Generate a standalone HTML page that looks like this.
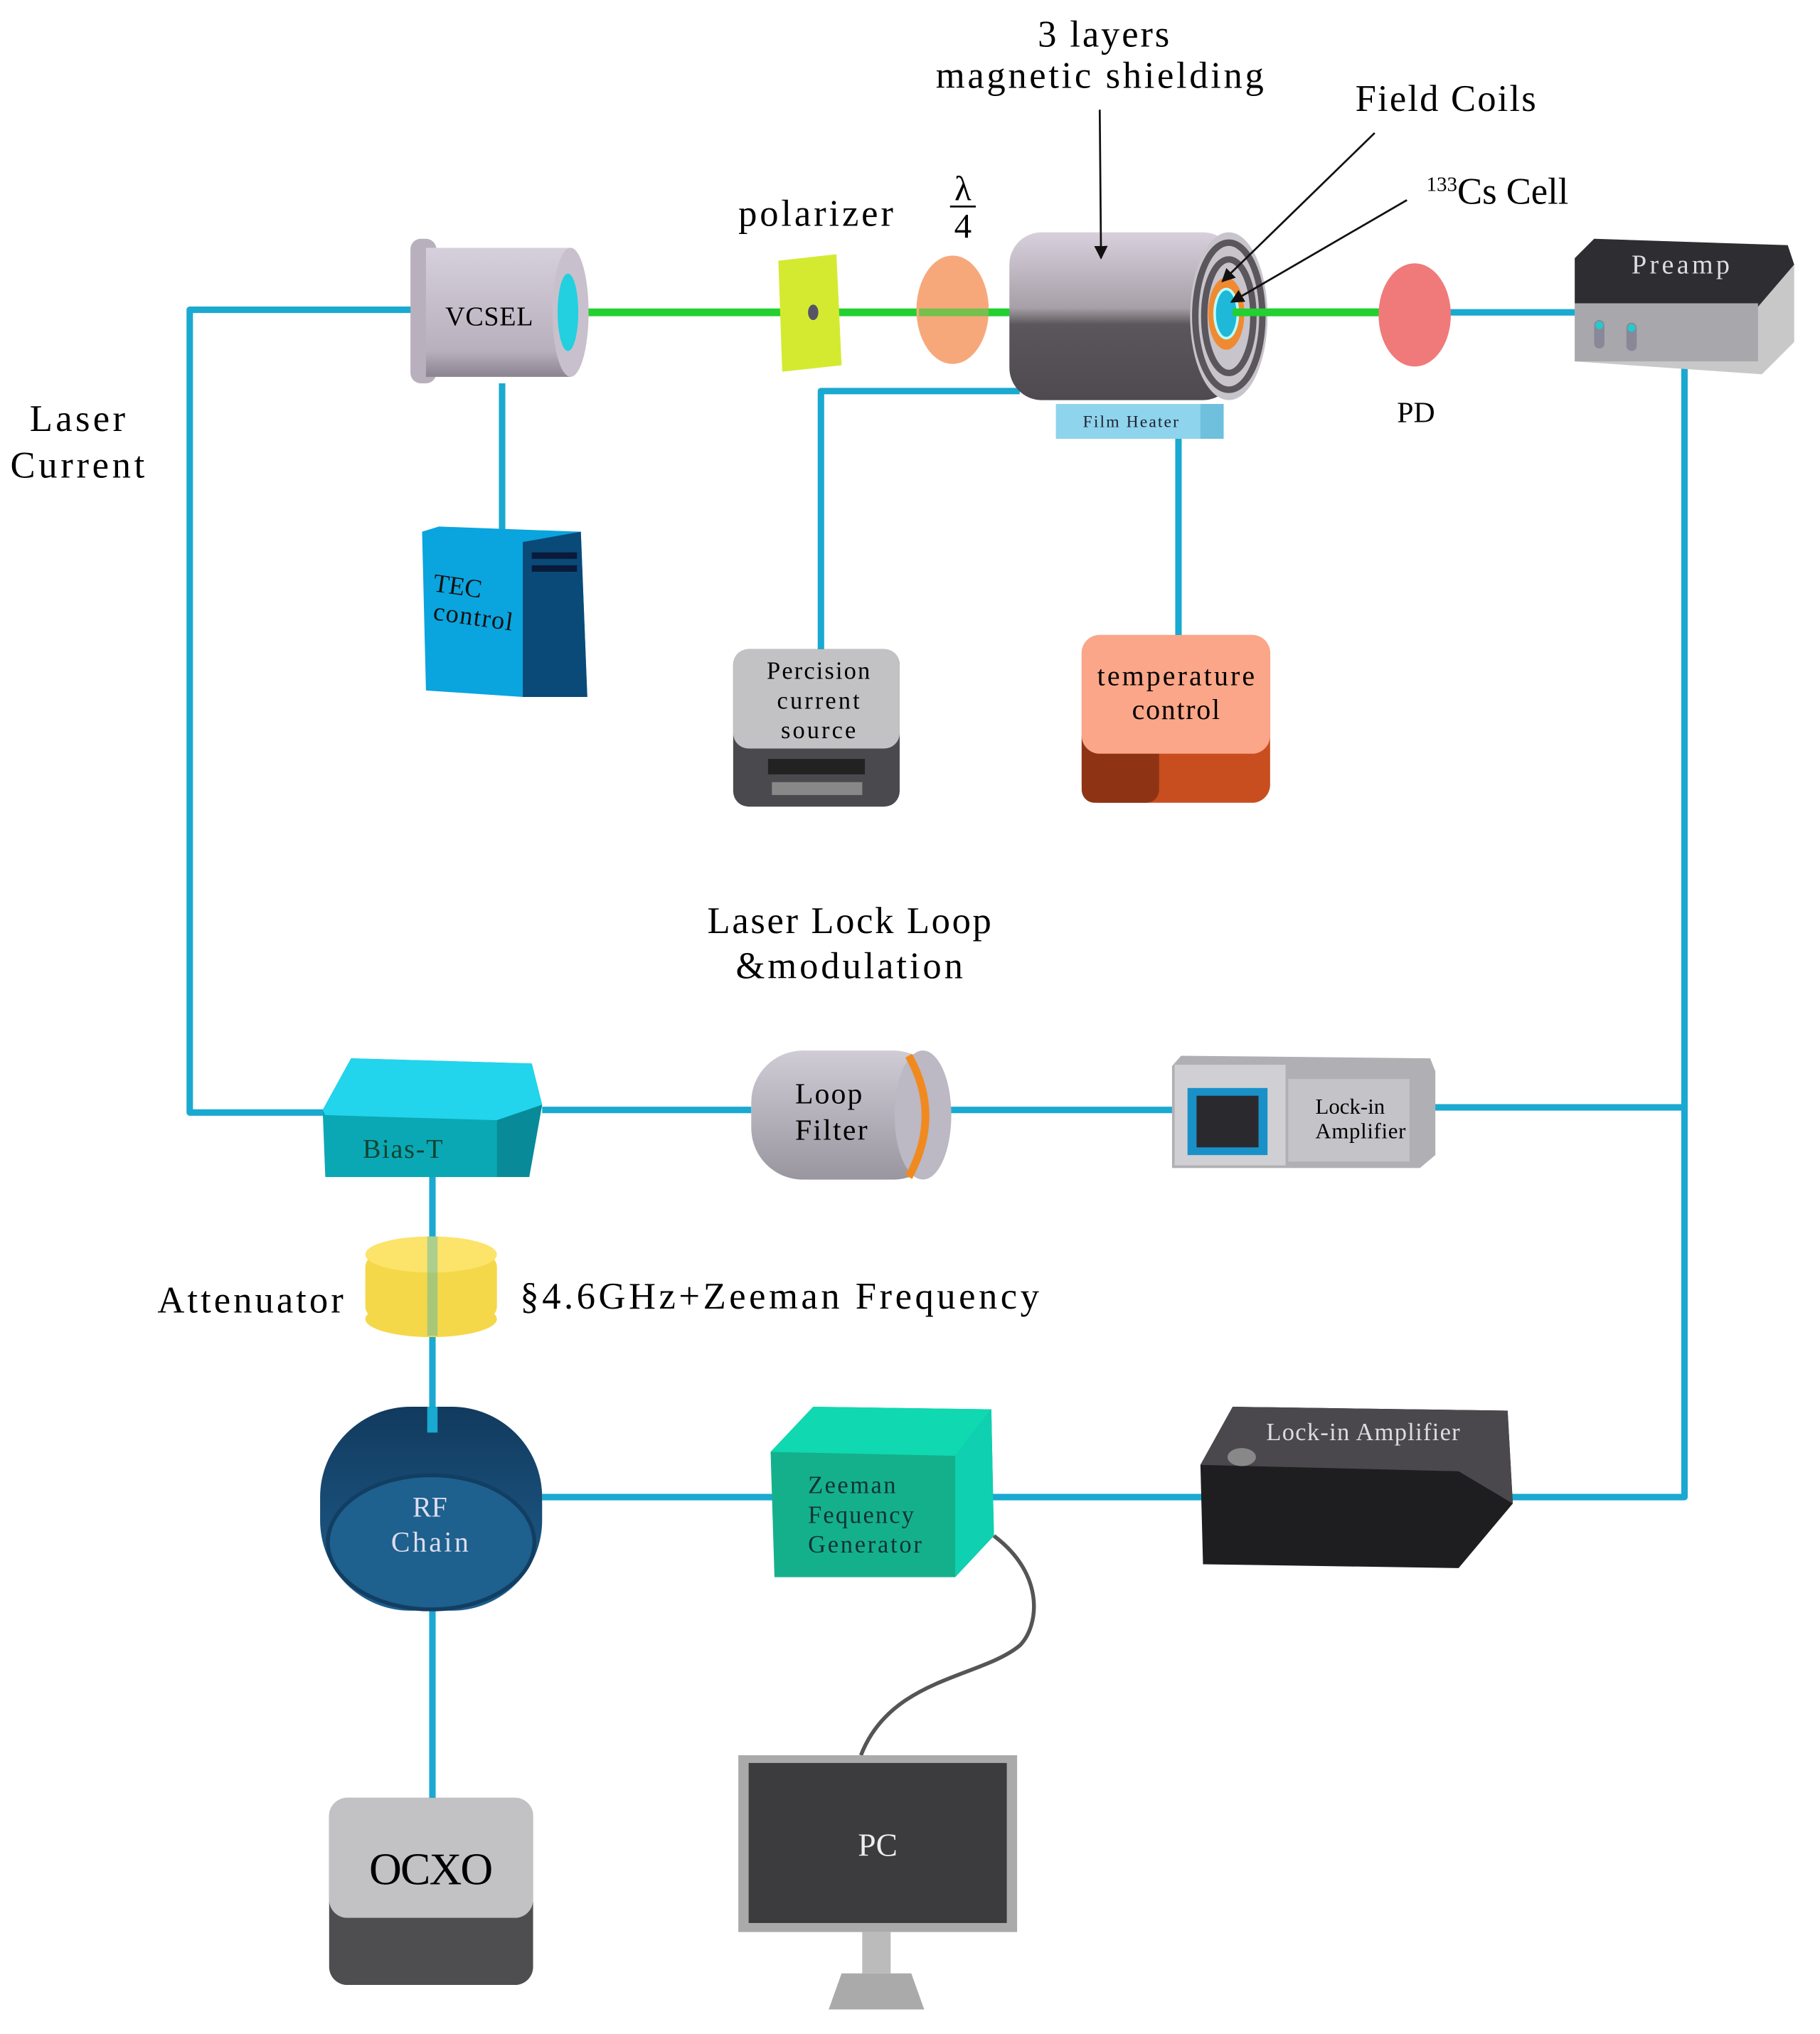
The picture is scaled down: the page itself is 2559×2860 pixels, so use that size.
<!DOCTYPE html>
<html><head><meta charset="utf-8"><style>
html,body{margin:0;padding:0;background:#fff}
svg{display:block}
text{font-family:"Liberation Serif",serif}
</style></head><body>
<svg width="2559" height="2860" viewBox="0 0 1410 1576" preserveAspectRatio="none" xmlns="http://www.w3.org/2000/svg">
<defs>
<linearGradient id="cyl" x1="0" y1="0" x2="0" y2="1"><stop offset="0" stop-color="#d8d0dc"/><stop offset="0.45" stop-color="#a8a0a8"/><stop offset="0.55" stop-color="#5a565c"/><stop offset="1" stop-color="#4e4a50"/></linearGradient>
<linearGradient id="vc" x1="0" y1="0" x2="0" y2="1"><stop offset="0" stop-color="#d6d0dc"/><stop offset="0.8" stop-color="#b8b0bc"/><stop offset="1" stop-color="#8a8490"/></linearGradient>
<linearGradient id="lf" x1="0" y1="0" x2="0" y2="1"><stop offset="0" stop-color="#d0ccd6"/><stop offset="1" stop-color="#9a96a0"/></linearGradient>
<linearGradient id="rf" x1="0" y1="0" x2="0" y2="1"><stop offset="0" stop-color="#123a5e"/><stop offset="1" stop-color="#1e5f8e"/></linearGradient>
<marker id="ar" viewBox="0 0 10 10" refX="9" refY="5" markerWidth="7" markerHeight="7" orient="auto"><path d="M0,0L10,5L0,10z" fill="#111"/></marker>
</defs>
<g stroke="#1aa9d0" stroke-width="5" fill="none" stroke-linejoin="round">
<polyline points="320,240 147,240 147,862 255,862"/>
<line x1="389" y1="297" x2="389" y2="412"/>
<polyline points="790,303 636,303 636,505"/>
<line x1="913" y1="340" x2="913" y2="495"/>
<line x1="1105" y1="242" x2="1222" y2="242"/>
<polyline points="1305,285 1305,1160 1150,1160"/>
<line x1="420" y1="860" x2="582" y2="860"/>
<line x1="735" y1="860" x2="908" y2="860"/>
<line x1="1110" y1="858" x2="1305" y2="858"/>
<line x1="335" y1="912" x2="335" y2="1400"/>
<line x1="420" y1="1160" x2="600" y2="1160"/>
<line x1="765" y1="1160" x2="932" y2="1160"/>
</g>
<line x1="435" y1="242" x2="1090" y2="242" stroke="#22d030" stroke-width="6"/>
<rect x="318" y="185" width="20" height="112" rx="8" fill="#b8b0bc"/>
<rect x="330" y="192" width="112" height="100" fill="url(#vc)"/>
<ellipse cx="442" cy="242" rx="14" ry="50" fill="#c8c0cc"/>
<ellipse cx="440" cy="242" rx="8" ry="30" fill="#22d0e0"/>
<text x="379" y="252" font-size="21" text-anchor="middle" textLength="68">VCSEL</text>
<polygon points="603,202 648,197 652,283 606,288" fill="#d4ea30"/>
<ellipse cx="630" cy="242" rx="4" ry="6" fill="#556"/>
<ellipse cx="738" cy="240" rx="28" ry="42" fill="#f7a87a"/>
<line x1="712" y1="242" x2="780" y2="242" stroke="#22d030" stroke-width="6" opacity="0.6"/>
<rect x="782" y="180" width="175" height="130" rx="25" fill="url(#cyl)"/>
<ellipse cx="952" cy="245" rx="30" ry="65" fill="#c8c4cc"/>
<ellipse cx="952" cy="245" rx="26" ry="57" fill="none" stroke="#5a565c" stroke-width="5"/>
<ellipse cx="952" cy="245" rx="19" ry="44" fill="none" stroke="#5a565c" stroke-width="5"/>
<ellipse cx="950" cy="243" rx="14" ry="28" fill="#f08a30"/>
<ellipse cx="950" cy="243" rx="9" ry="19" fill="#20b8d8" stroke="#bff" stroke-width="2"/>
<line x1="955" y1="242" x2="1080" y2="242" stroke="#22d030" stroke-width="6"/>
<rect x="818" y="313" width="130" height="27" fill="#8ed4ec"/>
<rect x="930" y="313" width="18" height="27" fill="#6ec0dc"/>
<text x="876" y="331" font-size="13" text-anchor="middle" fill="#223" textLength="74">Film Heater</text>
<ellipse cx="1096" cy="244" rx="28" ry="40" fill="#f07a7a"/>
<polygon points="1220,200 1235,185 1385,190 1390,205 1390,265 1365,290 1220,280" fill="#c8c8c8"/>
<polygon points="1220,200 1235,185 1385,190 1390,205 1360,240 1220,235" fill="#2e2e32"/>
<rect x="1220" y="235" width="142" height="45" fill="#a8a8ac"/>
<rect x="1235" y="248" width="8" height="22" rx="4" fill="#889"/><circle cx="1239" cy="252" r="3" fill="#2cc"/>
<rect x="1260" y="250" width="8" height="22" rx="4" fill="#889"/><circle cx="1264" cy="254" r="3" fill="#2cc"/>
<text x="1302" y="212" font-size="21" text-anchor="middle" fill="#ddd" textLength="76">Preamp</text>
<polygon points="327,412 340,408 450,412 455,540 405,540 330,535" fill="#0aa4de"/>
<polygon points="405,420 450,412 455,540 405,540" fill="#0a4a78"/>
<rect x="412" y="428" width="35" height="5" fill="#0a1a3a"/><rect x="412" y="438" width="35" height="5" fill="#0a1a3a"/>
<text x="335" y="458" font-size="20" transform="rotate(8 335 458)" fill="#111">TEC</text>
<text x="335" y="480" font-size="20" transform="rotate(8 335 480)" fill="#111" textLength="62">control</text>
<rect x="568" y="503" width="129" height="122" rx="12" fill="#4a4a4e"/>
<rect x="568" y="503" width="129" height="77" rx="12" fill="#c2c2c4"/>
<rect x="595" y="588" width="75" height="12" fill="#222"/>
<rect x="598" y="606" width="70" height="10" fill="#888"/>
<text x="634" y="526" font-size="19" text-anchor="middle" textLength="80">Percision</text>
<text x="634" y="549" font-size="19" text-anchor="middle" textLength="64">current</text>
<text x="634" y="572" font-size="19" text-anchor="middle" textLength="58">source</text>
<rect x="838" y="492" width="146" height="130" rx="14" fill="#c84e20"/>
<rect x="838" y="560" width="60" height="62" rx="10" fill="#8e3414"/>
<rect x="838" y="492" width="146" height="92" rx="14" fill="#fba688"/>
<text x="911" y="531" font-size="22" text-anchor="middle" textLength="122">temperature</text>
<text x="911" y="557" font-size="22" text-anchor="middle" textLength="68">control</text>
<text x="855" y="36" font-size="29" text-anchor="middle" textLength="102">3 layers</text>
<text x="852" y="68" font-size="29" text-anchor="middle" textLength="254">magnetic shielding</text>
<line x1="852" y1="85" x2="853" y2="200" stroke="#111" stroke-width="1.5" marker-end="url(#ar)"/>
<text x="1120" y="86" font-size="29" text-anchor="middle" textLength="140">Field Coils</text>
<line x1="1065" y1="103" x2="947" y2="218" stroke="#111" stroke-width="1.5" marker-end="url(#ar)"/>
<text x="1105" y="158" font-size="29"><tspan font-size="16" dy="-10">133</tspan><tspan dy="10">Cs Cell</tspan></text>
<line x1="1090" y1="155" x2="954" y2="234" stroke="#111" stroke-width="1.5" marker-end="url(#ar)"/>
<text x="632" y="175" font-size="29" text-anchor="middle" textLength="120">polarizer</text>
<text x="746" y="155" font-size="27" text-anchor="middle">λ</text>
<line x1="736" y1="160" x2="756" y2="160" stroke="#111" stroke-width="1.5"/>
<text x="746" y="184" font-size="27" text-anchor="middle">4</text>
<text x="1097" y="327" font-size="23" text-anchor="middle">PD</text>
<text x="60" y="334" font-size="29" text-anchor="middle" textLength="74">Laser</text>
<text x="60" y="370" font-size="29" text-anchor="middle" textLength="104">Current</text>
<text x="658" y="723" font-size="29" text-anchor="middle" textLength="220">Laser Lock Loop</text>
<text x="658" y="758" font-size="29" text-anchor="middle" textLength="176">&amp;modulation</text>
<polygon points="250,860 272,820 412,824 420,856 410,912 252,912" fill="#0aa8b4"/>
<polygon points="250,860 272,820 412,824 420,856 385,868 252,864" fill="#22d4ec"/>
<polygon points="385,868 420,856 410,912 385,912" fill="#088a98"/>
<text x="312" y="897" font-size="21" text-anchor="middle" fill="#143" textLength="62">Bias-T</text>
<rect x="582" y="814" width="150" height="100" rx="40" fill="url(#lf)"/>
<ellipse cx="715" cy="864" rx="22" ry="50" fill="#bcb8c4"/>
<path d="M704,818 Q730,864 704,912" stroke="#f08a20" stroke-width="6" fill="none"/>
<text x="642" y="855" font-size="23" text-anchor="middle" textLength="52">Loop</text>
<text x="644" y="883" font-size="23" text-anchor="middle" textLength="56">Filter</text>
<polygon points="908,826 915,818 1108,820 1112,830 1112,895 1100,905 908,905" fill="#b0b0b4"/>
<rect x="910" y="825" width="86" height="78" fill="#d0d0d4"/>
<rect x="998" y="836" width="94" height="64" fill="#c4c4c8"/>
<rect x="920" y="843" width="62" height="52" fill="#1a90c8"/>
<rect x="927" y="849" width="48" height="40" fill="#2a2a2e"/>
<text x="1046" y="863" font-size="17" text-anchor="middle">Lock-in</text>
<text x="1054" y="882" font-size="17" text-anchor="middle" textLength="70">Amplifier</text>
<rect x="283" y="972" width="102" height="50" rx="10" fill="#f4d84a"/>
<ellipse cx="334" cy="1022" rx="51" ry="14" fill="#f4d84a"/>
<ellipse cx="334" cy="972" rx="51" ry="14" fill="#fce36a"/>
<rect x="331" y="958" width="8" height="77" fill="#1aa9d0" opacity="0.35"/>
<text x="194" y="1017" font-size="29" text-anchor="middle" textLength="144">Attenuator</text>
<text x="403" y="1014" font-size="29" textLength="402">§4.6GHz+Zeeman Frequency</text>
<rect x="248" y="1090" width="172" height="158" rx="70" fill="url(#rf)"/>
<ellipse cx="334" cy="1195" rx="80" ry="52" fill="#1e608e" stroke="#123e62" stroke-width="3"/>
<rect x="331" y="1090" width="8" height="20" fill="#1aa9d0"/>
<text x="333" y="1175" font-size="22" text-anchor="middle" fill="#dde">RF</text>
<text x="333" y="1202" font-size="22" text-anchor="middle" fill="#dde" textLength="60">Chain</text>
<polygon points="597,1125 630,1090 768,1092 770,1190 740,1222 600,1222" fill="#14b08c"/>
<polygon points="597,1125 630,1090 768,1092 740,1128" fill="#10d8b0"/>
<polygon points="740,1128 768,1092 770,1190 740,1222" fill="#0fd0b0"/>
<text x="626" y="1157" font-size="19" fill="#133" textLength="68">Zeeman</text>
<text x="626" y="1180" font-size="19" fill="#133" textLength="82">Fequency</text>
<text x="626" y="1203" font-size="19" fill="#133" textLength="88">Generator</text>
<path d="M770,1190 C810,1220 805,1260 790,1275 C760,1300 690,1300 667,1360" stroke="#555" stroke-width="3" fill="none"/>
<polygon points="930,1135 955,1090 1168,1093 1172,1165 1130,1215 932,1212" fill="#1e1e20"/>
<polygon points="930,1135 955,1090 1168,1093 1172,1165 1130,1140" fill="#4a484c"/>
<ellipse cx="962" cy="1129" rx="11" ry="7" fill="#888"/>
<text x="1056" y="1116" font-size="19" text-anchor="middle" fill="#ddd" textLength="150">Lock-in Amplifier</text>
<rect x="255" y="1393" width="158" height="145" rx="14" fill="#4e4e50"/>
<rect x="255" y="1393" width="158" height="93" rx="14" fill="#c2c2c4"/>
<text x="334" y="1460" font-size="35" text-anchor="middle" textLength="96">OCXO</text>
<rect x="572" y="1360" width="216" height="137" fill="#aaa"/>
<rect x="580" y="1366" width="200" height="124" fill="#3c3c3e"/>
<rect x="668" y="1497" width="22" height="32" fill="#bbb"/>
<polygon points="652,1529 706,1529 716,1557 642,1557" fill="#aaa"/>
<text x="680" y="1438" font-size="25" text-anchor="middle" fill="#eee">PC</text>
</svg>
</body></html>
